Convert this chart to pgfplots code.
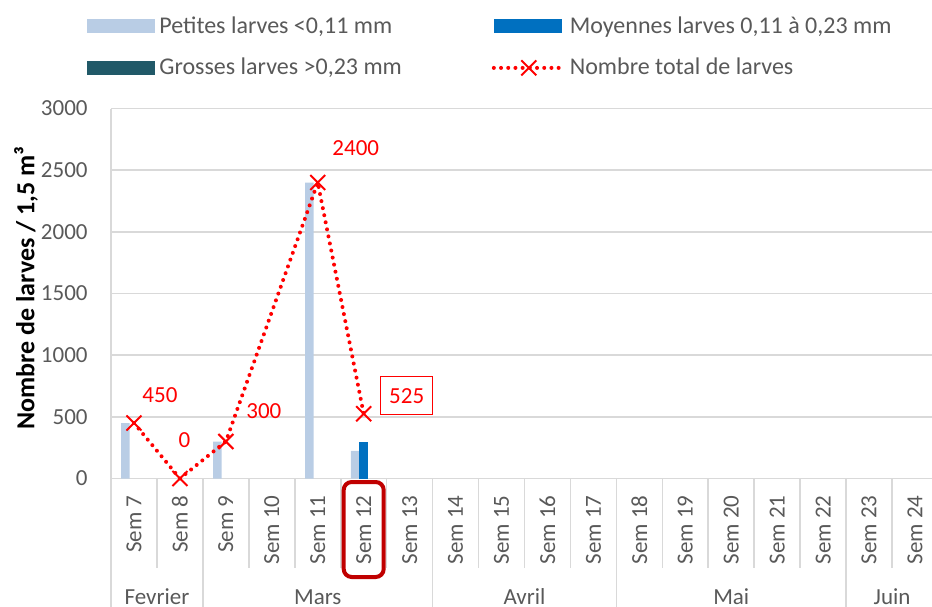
\documentclass[border=0pt]{standalone}
\usepackage{fontspec}
\setmainfont{Carlito}
\usepackage{pgfplots}
\pgfplotsset{compat=1.18}
\definecolor{petite}{HTML}{B9CDE5}
\definecolor{moyenne}{HTML}{0070C0}
\definecolor{grosse}{HTML}{215968}
\definecolor{gridc}{HTML}{D9D9D9}
\definecolor{txt}{HTML}{595959}
\definecolor{hl}{HTML}{C00000}
\tikzset{totline/.style={red, line width=2pt, dash pattern=on 0pt off 3.6pt, line cap=round},
  totmark/.style={red, solid, line width=1pt, line cap=butt}}
\begin{document}
\begin{tikzpicture}
\clip (0,0) rectangle (466pt,303pt);
\begin{axis}[
  at={(55.5pt,63.75pt)}, anchor=south west,
  scale only axis, width=413.5pt, height=185pt,
  xmin=-0.5, xmax=17.5, ymin=0, ymax=3000,
  xtick={0,...,17},
  xticklabels={Sem 7,Sem 8,Sem 9,Sem 10,Sem 11,Sem 12,Sem 13,Sem 14,Sem 15,Sem 16,Sem 17,Sem 18,Sem 19,Sem 20,Sem 21,Sem 22,Sem 23,Sem 24},
  ytick={0,500,...,3000},
  scaled y ticks=false,
  axis x line*=bottom, axis y line*=left,
  axis line style={gridc, line width=0.8pt, -},
  ymajorgrids, grid style={gridc, line width=0.8pt},
  major tick length=0pt,
  tick label style={font=\fontsize{11.5}{13}\selectfont, text=txt},
  /pgf/number format/assume math mode=true,
  /pgf/number format/1000 sep={},
  xticklabel style={rotate=90, anchor=east, inner sep=0pt},
  xticklabel shift=8.25pt,
  yticklabel style={inner sep=0pt}, yticklabel shift=11.5pt,
  ylabel={Nombre de larves / 1,5 m³},
  ylabel style={at={(axis description cs:-0.1028,0.515)}, anchor=center, font=\bfseries\fontsize{13}{15}\selectfont, text=black},
  clip=false,
  legend columns=2,
  legend cell align=left,
  legend style={at={(-0.0363,1.2608)}, anchor=north west, draw=none, fill=none,
    font=\fontsize{12}{14}\selectfont, text=txt,
    nodes={inner xsep=2pt, inner ysep=0pt},
    /tikz/every even column/.append style={column sep=43pt}, row sep=11pt},
]
\addplot[ybar, bar width=4.25pt, bar shift=-4.25pt, fill=petite, draw=none,
  legend image code/.code={\fill[petite] (0pt,-3.5pt) rectangle (34pt,3.5pt);}]
  coordinates {(0,450) (2,300) (4,2400) (5,225)};
\addlegendentry{Petites larves <0,11 mm}
\addplot[ybar, bar width=4.25pt, bar shift=0pt, fill=moyenne, draw=none,
  legend image code/.code={\fill[moyenne] (0pt,-3.5pt) rectangle (34pt,3.5pt);}]
  coordinates {(5,300)};
\addlegendentry{Moyennes larves 0,11 à 0,23 mm}
\addplot[ybar, bar width=4.25pt, bar shift=4.25pt, fill=none, draw=none,
  legend image code/.code={\fill[grosse] (0pt,-3.5pt) rectangle (34pt,3.5pt);}]
  coordinates {(0,0) (1,0) (2,0) (4,0) (5,0)};
\addlegendentry{Grosses larves >0,23 mm}
\addplot[totline, mark=x, mark size=5.3pt, mark options={totmark},
  legend image code/.code={\draw[totline] (0pt,0pt) -- (35pt,0pt);
    \draw[totmark] (13.75pt,-3.75pt) -- (21.25pt,3.75pt) (13.75pt,3.75pt) -- (21.25pt,-3.75pt);}]
  coordinates {(0,450) (1,0) (2,300) (4,2400) (5,525)};
\addlegendentry{Nombre total de larves}

\pgfplotsinvokeforeach{-0.5,0.5,...,17.5}{\draw[gridc, line width=0.8pt] (axis cs:#1,0) -- ++(0pt,-44.75pt);}
\pgfplotsinvokeforeach{-0.5,1.5,6.5,10.5,15.5}{\draw[gridc, line width=0.8pt] (axis cs:#1,0) -- ++(0pt,-70pt);}

\begin{scope}[every node/.style={anchor=base, font=\fontsize{11.5}{13}\selectfont, text=txt}]
\node at ([yshift=-63pt]axis cs:0.5,0) {Fevrier};
\node at ([yshift=-63pt]axis cs:4,0) {Mars};
\node at ([yshift=-63pt]axis cs:8.5,0) {Avril};
\node at ([yshift=-63pt]axis cs:13,0) {Mai};
\node at ([yshift=-63pt]axis cs:16.5,0) {Juin};
\end{scope}

\begin{scope}[every node/.style={font=\fontsize{11.5}{13}\selectfont, text=red}]
\node at ([xshift=13pt,yshift=14pt]axis cs:0,450) {450};
\node at ([xshift=2.25pt,yshift=19pt]axis cs:1,0) {0};
\node at ([xshift=19pt,yshift=15pt]axis cs:2,300) {300};
\node at ([xshift=19pt,yshift=17pt]axis cs:4,2400) {2400};
\node[draw=red, line width=0.6pt, minimum width=26pt, minimum height=19pt] at ([xshift=21.5pt,yshift=9pt]axis cs:5,525) {525};
\end{scope}

\draw[hl, line width=2pt, rounded corners=4pt] ([xshift=-10pt,yshift=-1.75pt]axis cs:5,0) rectangle ([xshift=10pt,yshift=-49.25pt]axis cs:5,0);
\end{axis}
\end{tikzpicture}
\end{document}
